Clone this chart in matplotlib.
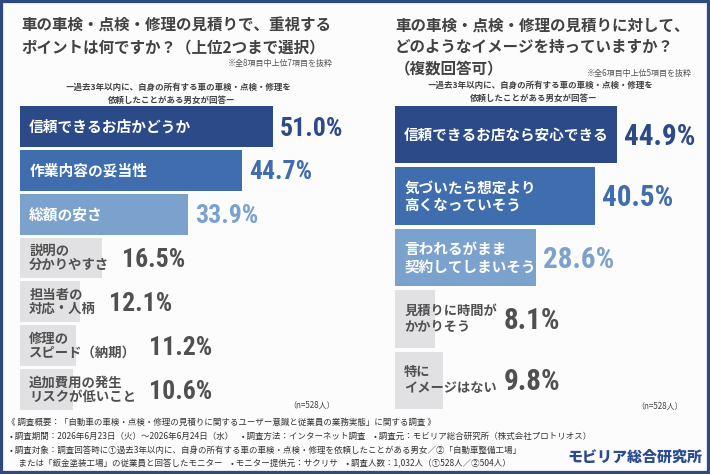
import matplotlib
matplotlib.use("Agg")
import matplotlib.pyplot as plt
from matplotlib import font_manager
from matplotlib.patches import Rectangle

# ---- data ----
left_labels = ['信頼できるお店かどうか', '作業内容の妥当性', '総額の安さ',
               '説明の\n分かりやすさ', '担当者の\n対応・人柄',
               '修理の\nスピード（納期）', '追加費用の発生\nリスクが低いこと']
left_values = [51.0, 44.7, 33.9, 16.5, 12.1, 11.2, 10.6]

right_labels = ['信頼できるお店なら安心できる', '気づいたら想定より\n高くなっていそう',
                '言われるがまま\n契約してしまいそう', '見積りに時間が\nかかりそう',
                '特に\nイメージはない']
right_values = [44.9, 40.5, 28.6, 8.1, 9.8]

left_title = ['車の車検・点検・修理の見積りで、重視する',
              'ポイントは何ですか？（上位2つまで選択）']
right_title = ['車の車検・点検・修理の見積りに対して、',
               'どのようなイメージを持っていますか？',
               '（複数回答可）']
left_note = '※全8項目中上位7項目を抜粋'
right_note = '※全6項目中上位5項目を抜粋'
sub_lines = ['ー過去3年以内に、自身の所有する車の車検・点検・修理を',
             '依頼したことがある男女が回答ー']
n_text = '（n=528人）'
footer = [
    '《 調査概要：「自動車の車検・点検・修理の見積りに関するユーザー意識と従業員の業務実態」に関する調査 》',
    '• 調査期間：2026年6月23日（火）～2026年6月24日（水）　• 調査方法：インターネット調査　• 調査元：モビリア総合研究所（株式会社プロトリオス）',
    '• 調査対象：調査回答時に①過去3年以内に、自身の所有する車の車検・点検・修理を依頼したことがある男女／②「自動車整備工場」',
    '　または「鈑金塗装工場」の従業員と回答したモニター　• モニター提供元：サクリサ　• 調査人数：1,032人（①528人／②504人）',
]
logo = 'モビリア総合研究所'

# ---- style ----
top_colors = ['#2c4a87', '#3f6dad', '#7ba2cc']
GREY_BAR = '#e1e1e3'
GREY_TXT = '#505050'
TITLE_C = '#424242'
JP = ['Noto Sans CJK JP', 'DejaVu Sans']

names = {f.name for f in font_manager.fontManager.ttflist}
if 'Roboto Condensed' in names:
    NUM = dict(family='Roboto Condensed')
    num_scale = 1.0
elif 'Liberation Sans Narrow' in names:
    NUM = dict(family='Liberation Sans Narrow')
    num_scale = 1.0
else:
    NUM = dict(family='DejaVu Sans', fontstretch='condensed')
    num_scale = 0.85

W, H = 710, 474
fig = plt.figure(figsize=(W / 100, H / 100), dpi=100, facecolor='#fcfcfc')


def fx(x):
    return x / W


def fy(y):
    return 1 - y / H


def ftext(x, y, s, **kw):
    kw.setdefault('family', JP)
    fig.text(fx(x), fy(y), s, **kw)


# frame
fig.patches.append(Rectangle((0, 0), 1, 1, transform=fig.transFigure,
                             fill=False, edgecolor='#2e4a7e', linewidth=4.5))

# titles
for i, line in enumerate(left_title):
    ftext(21, 25 + i * 22, line, fontsize=11.2, weight='bold', color=TITLE_C,
          va='center')
for i, line in enumerate(right_title):
    ftext(395, 26 + i * 21, line, fontsize=11.2, weight='bold', color=TITLE_C,
          va='center')
ftext(333, 63, left_note, fontsize=5.8, color='#555555', ha='right', va='center')
ftext(692, 73, right_note, fontsize=5.8, color='#555555', ha='right', va='center')

for cx, y0 in ((178, 87), (540, 85)):
    ftext(cx, y0, sub_lines[0], fontsize=6.1, weight='bold', color=TITLE_C,
          ha='center', va='center')
    ftext(cx - 6, y0 + 13, sub_lines[1], fontsize=6.1, weight='bold',
          color=TITLE_C, ha='center', va='center')

ftext(312, 405, n_text, fontsize=5.8, color=TITLE_C, ha='center', va='center')
ftext(660, 406, n_text, fontsize=5.8, color=TITLE_C, ha='center', va='center')

ftext(7, 422, footer[0], fontsize=6.1, color='#333333', va='center')
ftext(10, 436, footer[1], fontsize=6.1, color='#333333', va='center')
ftext(10, 450, footer[2], fontsize=6.1, color='#333333', va='center')
ftext(10, 464, footer[3], fontsize=6.1, color='#333333', va='center')
ftext(567, 457, logo, fontsize=10.8, weight='heavy', color='#2b4c91',
      va='center')


def panel(x0, top, bottom, px_per_pct, labels, values, big, small,
          num_size, gap_px, spacing):
    n = len(values)
    ax = fig.add_axes([fx(x0), fy(bottom), 60 * px_per_pct / W,
                       (bottom - top) / H])
    ax.set_xlim(0, 60)
    ax.set_ylim(n - 0.5, -0.5)
    ax.axis('off')
    colors = top_colors + [GREY_BAR] * (n - 3)
    ax.barh(range(n), values, height=0.935, color=colors, linewidth=0)
    labs = []
    for i, lab in enumerate(labels):
        is_top = i < 3
        t = ax.annotate(lab, xy=(0, i), xytext=(6.6, 0),
                        textcoords='offset points', va='center', ha='left',
                        family=JP, weight='bold', linespacing=spacing,
                        fontsize=big if is_top else small,
                        color='white' if is_top else GREY_TXT)
        labs.append(t)
    fig.canvas.draw()
    r = fig.canvas.get_renderer()
    for i, (t, v) in enumerate(zip(labs, values)):
        bar_end = ax.transData.transform((v, i))[0]
        lab_end = t.get_window_extent(r).x1
        extra = max(0, lab_end + gap_px[1] - (bar_end + gap_px[0]))
        off = (gap_px[0] + extra) * 72 / 100
        ax.annotate(f'{v:.1f}%', xy=(v, i), xytext=(off, -1.5),
                    textcoords='offset points', va='center', ha='left',
                    weight='bold', fontsize=num_size * num_scale,
                    color=top_colors[i] if i < 3 else GREY_TXT, **NUM)
    return ax


panel(20, 104.6, 411.4, 4.96, left_labels, left_values, 10.6, 9.6,
      18.5, (7, 13), 1.0)
panel(395, 104.0, 411.0, 4.94, right_labels, right_values, 10.5, 9.5,
      21, (7, 7), 1.15)

fig.savefig('out.png', dpi=100, facecolor=fig.get_facecolor())
